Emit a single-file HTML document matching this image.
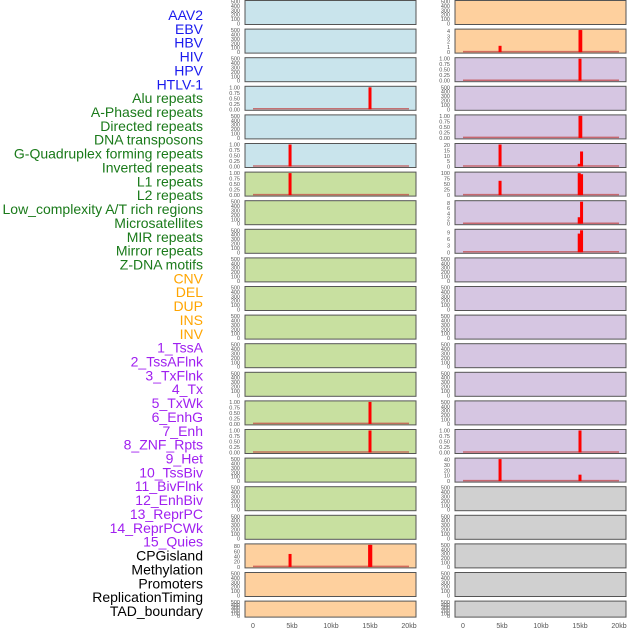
<!DOCTYPE html>
<html><head><meta charset="utf-8"><style>
body{margin:0;background:#fff;width:630px;height:630px;overflow:hidden;font-family:"Liberation Sans",sans-serif}
svg text{font-family:"Liberation Sans",sans-serif}
</style></head><body>
<svg id="c" width="630" height="630"></svg>
<script>
const labels=["AAV2","EBV","HBV","HIV","HPV","HTLV-1","Alu repeats","A-Phased repeats","Directed repeats","DNA transposons","G-Quadruplex forming repeats","Inverted repeats","L1 repeats","L2 repeats","Low_complexity A/T rich regions","Microsatellites","MIR repeats","Mirror repeats","Z-DNA motifs","CNV","DEL","DUP","INS","INV","1_TssA","2_TssAFlnk","3_TxFlnk","4_Tx","5_TxWk","6_EnhG","7_Enh","8_ZNF_Rpts","9_Het","10_TssBiv","11_BivFlnk","12_EnhBiv","13_ReprPC","14_ReprPCWk","15_Quies","CPGisland","Methylation","Promoters","ReplicationTiming","TAD_boundary"];
const labelGroups=[6,13,5,15,5];
const groupColors=["#1a1aee","#1a7a1a","#ffa500","#a020f0","#000000"];
const xTicks=[0,5,10,15,20];
const xTickLabels=["0","5kb","10kb","15kb","20kb"];
const leftFill=["b","b","b","b","b","b","g","g","g","g","g","g","g","g","g","g","g","g","g","o","o","o"];
const rightFill=["o","o","p","p","p","p","p","p","p","p","p","p","p","p","p","p","p","y","y","y","y","y"];
const leftMax=[500,500,500,1,500,1,1,500,500,500,500,500,500,500,1,1,500,500,500,85,500,500];
const rightMax=[500,4.2,1,500,1,20.5,100,8.5,10,500,500,500,500,500,500,1,41,500,500,500,500,500];
const leftTicks=[null,null,null,[0,0.25,0.5,0.75,1],null,[0,0.25,0.5,0.75,1],[0,0.25,0.5,0.75,1],null,null,null,null,null,null,null,[0,0.25,0.5,0.75,1],[0,0.25,0.5,0.75,1],null,null,null,[0,20,40,60,80],null,null];
const rightTicks=[null,[0,1,2,3,4],[0,0.25,0.5,0.75,1],null,[0,0.25,0.5,0.75,1],[0,5,10,15,20],[0,25,50,75,100],[0,2,4,6,8],[0,3,6,9],null,null,null,null,null,null,[0,0.25,0.5,0.75,1],[0,10,20,30,40],null,null,null,null,null];
const leftBars={3:[[15,1]],5:[[4.75,1]],6:[[4.75,1]],14:[[15,1]],15:[[15,1]],19:[[4.75,50],[14.95,85],[15.1,85]]};
const rightBars={1:[[4.75,1.2],[15,4.2],[15.1,4.2]],2:[[15,1]],4:[[15,1],[15.1,1]],5:[[4.75,20.5],[14.9,2.5],[15.2,14]],6:[[4.75,65],[14.9,100],[15.2,95]],7:[[14.9,2.5],[15.2,8.5]],8:[[14.9,8.5],[15.2,10]],15:[[15,1]],16:[[4.75,41],[15,12]]};
const fills={b:"#c9e4ec",g:"#c8e0a0",o:"#fed09e",p:"#d6c6e2",y:"#d0d0d0"};
const NS="http://www.w3.org/2000/svg";
const svg=document.getElementById('c');
function mk(t,a,p){const e=document.createElementNS(NS,t);for(const k in a)e.setAttribute(k,a[k]);(p||svg).appendChild(e);return e;}
let li=0;
for(let g=0;g<labelGroups.length;g++){for(let j=0;j<labelGroups[g];j++){
 const t=mk('text',{x:203,y:20+li*13.86,'text-anchor':'end','font-size':14,fill:groupColors[g]});
 t.textContent=labels[li];
 
 
 li++;}}
function panel(col,i,fillKey,max,ticks,bars){
 const px=col?455:245, x0=col?463:253, x1=col?619:409;
 const top=0.5+i*28.6, h=(i==21)?16:24;
 const g=mk('g',{});
 
 
 mk('rect',{x:px,y:top,width:171,height:h,fill:fills[fillKey],stroke:'#555','stroke-width':1},g);
 const yb=top+h-1, yt=top+1;
 const ys=v=>yb-(v/max)*(yb-yt);
 const xs=k=>x0+(k/20)*(x1-x0);
 const tk=ticks||[0,100,200,300,400,500];
 tk.forEach(v=>{const t=mk('text',{x:px-5,y:ys(v)+2,'text-anchor':'end','font-size':5.5,fill:'#555'},g);
  t.textContent=(max==1)?v.toFixed(2):String(v);
  
  });
 if(bars){
  mk('line',{x1:x0,x2:x1,y1:yb-0.5,y2:yb-0.5,stroke:'#c04040','stroke-opacity':0.7,'stroke-width':1.5},g);
  bars.forEach(b=>{const r=mk('rect',{x:xs(b[0])-1.5,y:ys(b[1]),width:3,height:yb-ys(b[1]),fill:'#ff0000'},g);
   
   });
 }
}
for(let i=0;i<22;i++){panel(0,i,leftFill[i],leftMax[i],leftTicks[i],leftBars[i]);panel(1,i,rightFill[i],rightMax[i],rightTicks[i],rightBars[i]);}
[253,463].forEach(x0=>{xTicks.forEach((k,j)=>{
 const t=mk('text',{x:x0+k/20*156,y:628,'text-anchor':'middle','font-size':7,fill:'#555'});
 t.textContent=xTickLabels[j];
 
 });});
</script>
</body></html>
